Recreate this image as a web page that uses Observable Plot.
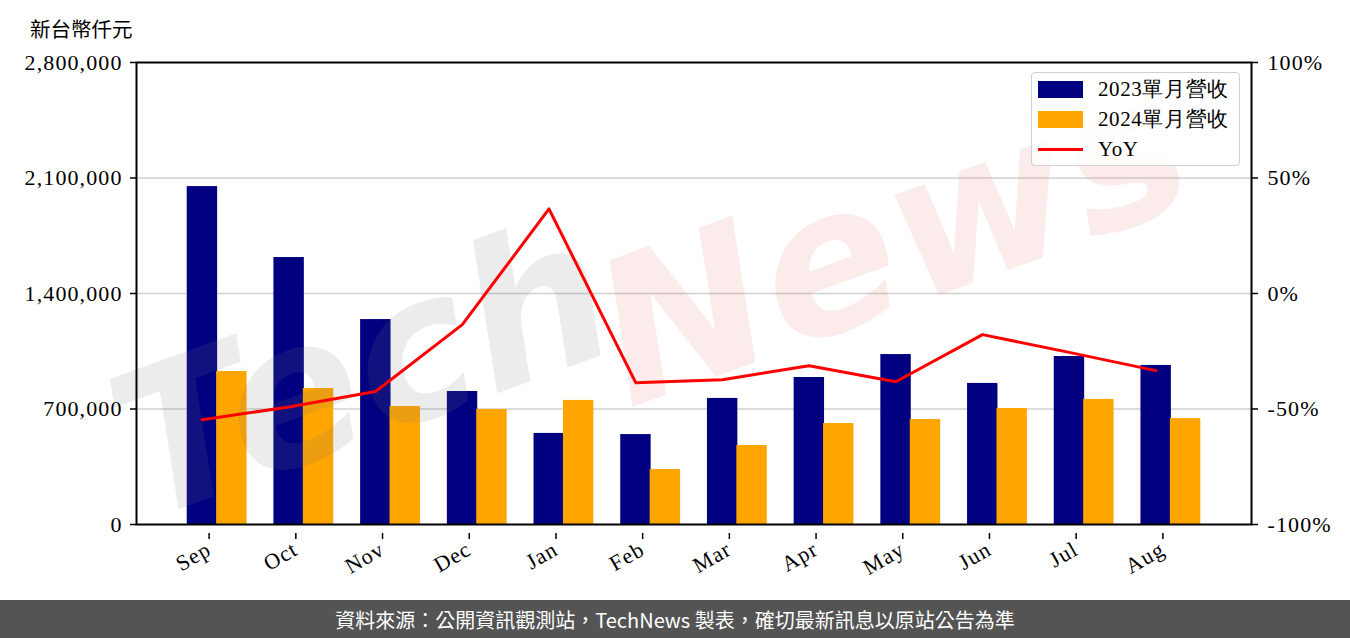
<!DOCTYPE html>
<html>
<head>
<meta charset="utf-8">
<script src="https://cdn.jsdelivr.net/npm/d3@7"></script>
<script src="https://cdn.jsdelivr.net/npm/@observablehq/plot@0.6"></script>
<style>
  html, body { margin: 0; padding: 0; background: #fff; }
  #wrap { position: relative; width: 1350px; height: 638px; overflow: hidden; }
  #unit { position: absolute; left: 30px; top: 13px; font: 20.5px "Noto Sans CJK TC", sans-serif; color: #000; }
  #chart { position: absolute; left: 0; top: 0; }
  #chart svg text { letter-spacing: 1.1px; }
  #legend { position: absolute; left: 1031px; top: 72px; width: 209px; height: 94px; border: 1px solid #cfcfcf; border-radius: 4px; background: rgba(255,255,255,0.85); box-sizing: border-box; font: 21px "Liberation Serif", serif; letter-spacing: 0.6px; }
  .row { position: absolute; left: 6px; height: 20px; display: flex; align-items: center; }
  .sw { width: 45px; height: 17px; margin-right: 15px; }
  .ln { width: 45px; height: 3px; margin-right: 15px; background: #ff0000; }
  #footer { position: absolute; left: 0; top: 600px; width: 1350px; height: 38px; background: #545454; color: #fff; font: 20px "Noto Sans CJK TC", sans-serif; display: flex; align-items: center; justify-content: center; }
</style>
</head>
<body>
<div id="wrap">
  <div id="chart"></div>
  <div id="unit"></div>
  <div id="legend"></div>
  <div id="footer"></div>
</div>
<script>
const months = ["Sep","Oct","Nov","Dec","Jan","Feb","Mar","Apr","May","Jun","Jul","Aug"];
const rev2023 = [2048000, 1618000, 1242000, 806000, 552000, 545000, 764000, 891000, 1030000, 855000, 1018000, 964000];
const rev2024 = [927000, 824000, 715000, 697000, 752000, 333000, 479000, 612000, 636000, 703000, 758000, 642000];
const yoy = [-54.7, -49.1, -42.4, -13.5, 36.6, -38.6, -37.3, -31.3, -38.2, -17.8, -25.5, -33.4];
const leftTicks = [0, 700000, 1400000, 2100000, 2800000];
const rightTicks = [-100, -50, 0, 50, 100];
const seriesNames = ["2023單月營收", "2024單月營收", "YoY"];
const unitLabel = "新台幣仟元";
const footerText = "資料來源：公開資訊觀測站，TechNews 製表，確切最新訊息以原站公告為準";

const colors = ["#000080", "#FFA500", "#FF0000"];
const yMax = 2800000;
const toLeft = p => (p + 100) / 200 * yMax;

const data = months.map((m, i) => ({month: m, a: rev2023[i], b: rev2024[i], yoy: yoy[i]}));

const W = 1350, H = 600, mL = 136, mR = 99, mT = 62, mB = 76;
const pInner = 0.31, pOuter = 0.585;
const step = (W - mL - mR) / (months.length - pInner + 2 * pOuter);
const bw = step * (1 - pInner);

const chart = Plot.plot({
  width: W, height: H,
  marginLeft: mL, marginRight: mR, marginTop: mT, marginBottom: mB,
  style: {fontFamily: "Liberation Serif, serif", fontSize: "22px", color: "#000", background: "transparent"},
  x: {domain: months, paddingInner: pInner, paddingOuter: pOuter, round: false, label: null},
  y: {domain: [0, yMax], label: null},
  marks: [
    Plot.gridY(leftTicks.slice(1, -1), {stroke: "#d0d0d0", strokeOpacity: 1, strokeWidth: 1.5}),
    Plot.barY(data, {x: "month", y: "a", fill: colors[0], insetLeft: 0, insetRight: bw / 2 - 0.5}),
    Plot.barY(data, {x: "month", y: "b", fill: colors[1], insetLeft: bw / 2 - 0.5, insetRight: 0}),
    Plot.text(["Tech"], {frameAnchor: "middle", text: d => d, dx: -330, dy: 80, rotate: -20, fontSize: 200, fontStyle: "italic", fontWeight: "bold", fontFamily: "DejaVu Sans", fill: "#777", fillOpacity: 0.14}),
    Plot.text(["News"], {frameAnchor: "middle", text: d => d, dx: 200, dy: -50, rotate: -20, fontSize: 200, fontStyle: "italic", fontWeight: "bold", fontFamily: "DejaVu Sans", fill: "#e07070", fillOpacity: 0.14}),
    Plot.lineY(data, {x: "month", y: d => toLeft(d.yoy), stroke: colors[2], strokeWidth: 3, dx: -bw / 4}),
    Plot.axisY({anchor: "left", ticks: leftTicks, tickFormat: d3.format(","), tickSize: 6, tickPadding: 8, strokeWidth: 1.5, label: null}),
    Plot.axisY({anchor: "right", ticks: rightTicks.map(toLeft), tickFormat: (d, i) => rightTicks[i] + "%", tickSize: 6, tickPadding: 10, strokeWidth: 1.5, label: null}),
    Plot.axisX({tickRotate: -30, tickSize: 6, tickPadding: 8, strokeWidth: 1.5, label: null, textStroke: "none", dx: -8, dy: 9}),
    Plot.frame({stroke: "#000", strokeWidth: 2})
  ]
});
document.getElementById("chart").appendChild(chart);
document.getElementById("unit").textContent = unitLabel;
document.getElementById("footer").textContent = footerText;

const legend = document.getElementById("legend");
seriesNames.forEach((name, i) => {
  const row = document.createElement("div");
  row.className = "row";
  row.style.top = (6 + i * 30) + "px";
  const sw = document.createElement("div");
  if (i < 2) { sw.className = "sw"; sw.style.background = colors[i]; } else { sw.className = "ln"; }
  row.appendChild(sw);
  const t = document.createElement("span");
  t.textContent = name;
  row.appendChild(t);
  legend.appendChild(row);
});
</script>
</body>
</html>
